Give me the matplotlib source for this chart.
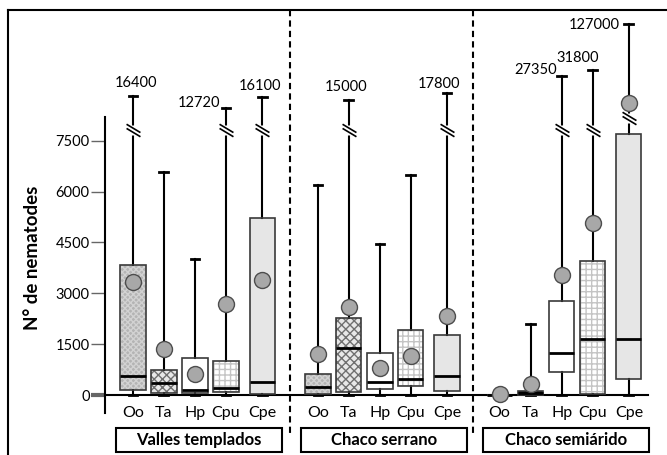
import numpy as np
import matplotlib
matplotlib.use("Agg")
import matplotlib.pyplot as plt
from matplotlib.path import Path
from matplotlib.patches import PathPatch, Rectangle
from matplotlib.lines import Line2D

plt.rcParams['font.family'] = ['Lato', 'DejaVu Sans']
plt.rcParams['hatch.linewidth'] = 1.0

# data
groups = ['Valles templados', 'Chaco serrano', 'Chaco semiárido']
species = ['Oo', 'Ta', 'Hp', 'Cpu', 'Cpe']

whis_hi = [[16400, 6570, 4010, 12720, 16100],
           [6200, 15000, 4450, 6500, 17800],
           [0, 2100, 27350, 31800, 127000]]
q3 = [[3850, 730, 1100, 1010, 5210],
      [620, 2280, 1230, 1920, 1760],
      [0, 130, 2770, 3960, 8000]]
med = [[570, 345, 150, 200, 390],
       [225, 1380, 390, 470, 560],
       [0, 50, 1230, 1650, 1640]]
q1 = [[150, 70, 70, 100, 30],
      [20, 100, 170, 275, 130],
      [0, 0, 690, 30, 470]]
whis_lo = [[0, 0, 0, 0, 0],
           [0, 0, 0, 0, 0],
           [0, 0, 0, 0, 0]]
means = [[3330, 1360, 620, 2680, 3390],
         [1200, 2590, 790, 1150, 2340],
         [40, 330, 3540, 5080, 14100]]
yticks = [0, 1500, 3000, 4500, 6000, 7500]

# broken axis: linear up to 7500, compressed above
BRK = 7500.0
A = 2950.0
P = 0.75


def fwd(v):
    v = np.asarray(v, float)
    r = np.maximum(v, BRK) / BRK
    return np.where(v <= BRK, v, BRK + A * np.log10(r) ** P)


def inv(f):
    f = np.asarray(f, float)
    t = np.maximum(f - BRK, 0) / A
    return np.where(f <= BRK, f, BRK * 10 ** (t ** (1 / P)))


# layout / style
goff = [0, 5.87, 11.64]
slot = [0, 0.98, 1.97, 2.95, 4.1]
fills = {'Oo': ('#b4b4b4', 'xxxxxx', '#d2d2d2'),
         'Ta': ('#e8e8e8', 'xxxx', '#707070'),
         'Hp': ('white', None, 'white'),
         'Cpu': ('white', '+++', '#c4c4c4'),
         'Cpe': ('#e6e6e6', None, '#e6e6e6')}
brk_at = {(2, 4): 10300}
lbl_off = {(0, 0): (3, 13, 'center'), (0, 3): (-6, 5, 'right'),
           (0, 4): (-2, 11, 'center'), (1, 1): (-3, 13, 'center'),
           (1, 4): (-8, 9, 'center'), (2, 2): (-5, 6, 'right'),
           (2, 3): (-15, 12, 'center'), (2, 4): (-9, -1, 'right')}

fig = plt.figure(figsize=(6.67, 4.55), dpi=100)
ax = fig.add_axes([105 / 667, 42 / 455, 555 / 667, 403 / 455])
ax.set_yscale('function', functions=(fwd, inv))

stats, pos, keys = [], [], []
for g in range(3):
    for i, sp in enumerate(species):
        stats.append(dict(med=med[g][i], q1=q1[g][i], q3=q3[g][i],
                          whislo=whis_lo[g][i], whishi=whis_hi[g][i],
                          mean=means[g][i], label=sp))
        pos.append(goff[g] + slot[i])
        keys.append((g, i))

res = ax.bxp(stats, positions=pos, widths=0.8, capwidths=0.28,
             patch_artist=True, showmeans=True, showfliers=False,
             manage_ticks=False,
             boxprops=dict(linewidth=0),
             medianprops=dict(color='black', linewidth=2),
             whiskerprops=dict(color='black', linewidth=1.5),
             capprops=dict(color='black', linewidth=2),
             meanprops=dict(marker='o', markersize=11.5, markerfacecolor='#a8a8a8',
                            markeredgecolor='#4d4d4d', markeredgewidth=1, zorder=6))

for b, (g, i) in zip(res['boxes'], keys):
    fc, h, hc = fills[species[i]]
    if (g, i) == (2, 1):
        fc, h, hc = 'black', None, 'black'
    b.set_facecolor(fc)
    b.set_edgecolor(hc)
    b.set_hatch(h)
    ax.add_patch(PathPatch(b.get_path(), transform=b.get_transform(), fill=False,
                           edgecolor='#3a3a3a', linewidth=1.2, zorder=2.5))

for m in res['medians']:
    m.set_zorder(2.6)

# break marks on whiskers above 7500
brk_mark = Path([(-1, 0.9), (1, -0.3), (-1, 0.3), (1, -0.9)],
                [Path.MOVETO, Path.LINETO, Path.MOVETO, Path.LINETO])
for p, (g, i) in zip(pos, keys):
    hi = whis_hi[g][i]
    if hi > BRK:
        yb = brk_at.get((g, i), 8400)
        ax.plot(p, yb, 's', ms=7, mfc='white', mec='none', zorder=3)
        ax.plot(p, yb, marker=brk_mark, ms=10, mfc='none', mec='black', mew=1.2, zorder=4)
        dx, dy, ha = lbl_off[(g, i)]
        ax.annotate(str(hi), (p, hi), xytext=(dx, dy), textcoords='offset pixels',
                    ha=ha, va='center', fontsize=10.5)

xl = (-0.89, 16.73)
ax.set_xlim(xl)
ax.set_ylim(-530, 202000)

# baseline
ax.plot([xl[0], 16.35], [0, 0], color='black', lw=1.5, clip_on=False, zorder=1.8)

for s in ['top', 'right', 'bottom']:
    ax.spines[s].set_visible(False)
ax.spines['left'].set_bounds(-530, 10590)
ax.spines['left'].set_linewidth(1.5)
ax.set_xticks([])
ax.set_yticks(yticks)
ax.set_yticklabels([str(t) for t in yticks])
ax.tick_params(axis='y', direction='out', length=10, width=1, color='#666666',
               labelsize=10.5, pad=1)
tks = ax.yaxis.get_major_ticks()
tks[0].tick1line.set_markeredgewidth(3)
tks[0].tick1line.set_color('black')
tks[3].tick1line.set_color('#4a6fa5')

trx = ax.get_xaxis_transform()
for p, (g, i) in zip(pos, keys):
    ax.text(p, 0.0, species[i], transform=trx, ha='center', va='center', fontsize=11.5)

for g, name in enumerate(groups):
    ax.add_patch(Rectangle((goff[g] - 0.54, -0.097), 5.27, 0.06, transform=trx,
                           fill=False, lw=1.5, edgecolor='black', clip_on=False))
    ax.text(goff[g] + 2.1, -0.066, name, transform=trx, ha='center', va='center',
            fontsize=12, fontweight='bold')

# dashed separators between groups
for g in range(2):
    xs = (goff[g] + slot[-1] + goff[g + 1]) / 2
    ax.plot([xs, xs], [1.0, -0.055], transform=trx, color='black', lw=1.5,
            ls=(0, (3, 2)), clip_on=False)

# outer frame
fig.add_artist(Line2D([8 / 667, 1.0], [1 - 10 / 455, 1 - 10 / 455], color='black', lw=1.5))
fig.add_artist(Line2D([8 / 667, 8 / 667], [0, 1 - 10 / 455], color='black', lw=1.5))

fig.text(32 / 667, 1 - 258 / 455, 'N° de nematodes', rotation=90, ha='center',
         va='center', fontsize=13.5, fontweight='bold')

fig.savefig('out.png', dpi=100)
